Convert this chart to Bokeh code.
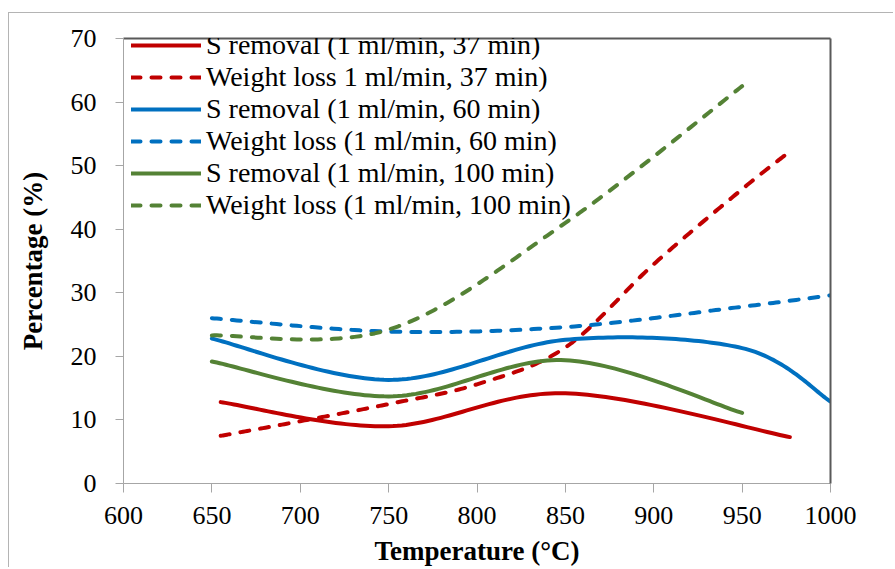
import numpy as np
from bokeh.plotting import figure
from bokeh.models import Range1d, FixedTicker, LinearAxis, Legend, LegendItem
from bokeh.embed import file_html
from bokeh.resources import INLINE

# ---- data ----
temp_s37 = [655, 750, 850, 977]
s_removal_37 = [12.8, 9.0, 14.2, 7.3]
temp_w37 = [655, 700, 750, 800, 850, 900, 950, 975]
weight_loss_37 = [7.5, 9.8, 12.5, 15.6, 21.4, 34.5, 46.3, 51.8]
temp_60 = [650, 750, 850, 950, 1000]
s_removal_60 = [22.8, 16.3, 22.6, 21.3, 12.9]
weight_loss_60 = [26.0, 23.9, 24.6, 27.8, 29.6]
temp_100 = [650, 750, 850, 950]
s_removal_100 = [19.2, 13.7, 19.4, 11.1]
weight_loss_100 = [23.3, 24.2, 41.0, 62.5]

labels = [
    "S removal (1 ml/min, 37 min)",
    "Weight loss 1 ml/min, 37 min)",
    "S removal (1 ml/min, 60 min)",
    "Weight loss (1 ml/min, 60 min)",
    "S removal (1 ml/min, 100 min)",
    "Weight loss (1 ml/min, 100 min)",
]
x_title = "Temperature (°C)"
y_title = "Percentage (%)"
x_ticks = [600, 650, 700, 750, 800, 850, 900, 950, 1000]
y_ticks = [0, 10, 20, 30, 40, 50, 60, 70]

RED, BLUE, GREEN = "#C00000", "#0070C0", "#548235"
FONT = "Liberation Serif"


def smooth(xs, ys, n=40):
    """Excel-style smoothed line: cubic Bezier segments through the points."""
    P = np.column_stack([xs, ys]).astype(float)
    m = len(P)
    outx, outy = [], []
    t = np.linspace(0, 1, n)
    for i in range(m - 1):
        p0 = P[i]
        p3 = P[i + 1]
        pm = P[i - 1] if i > 0 else P[i]
        pp = P[i + 2] if i + 2 < m else P[i + 1]
        c1 = p0 + (p3 - pm) / 6.0
        c2 = p3 - (pp - p0) / 6.0
        b = ((1 - t) ** 3)[:, None] * p0 + (3 * (1 - t) ** 2 * t)[:, None] * c1 \
            + (3 * (1 - t) * t ** 2)[:, None] * c2 + (t ** 3)[:, None] * p3
        outx.extend(b[:, 0] if i == 0 else b[1:, 0])
        outy.extend(b[:, 1] if i == 0 else b[1:, 1])
    return outx, outy


W, H = 885, 555
ML, MR, MT, MB = 114, 64, 25, 84
p = figure(width=W, height=H, output_backend="svg", toolbar_location=None,
           x_range=Range1d(600, 1000), y_range=Range1d(0, 70),
           min_border_left=ML, min_border_right=MR, min_border_top=MT,
           min_border_bottom=MB)
p.styles = {"margin-top": "12px", "margin-left": "8px",
            "border-top": "1px solid #b4b4b4", "border-left": "1px solid #b4b4b4"}
p.outline_line_color = None
p.xgrid.visible = False
p.ygrid.visible = False
p.background_fill_color = "white"
p.border_fill_color = "white"

for ax in (p.xaxis[0], p.yaxis[0]):
    ax.axis_line_color = "#a6a6a6"
    ax.major_tick_line_color = "#a6a6a6"
    ax.minor_tick_line_color = None
    ax.major_tick_in = 0
    ax.major_label_text_font = FONT
    ax.major_label_text_font_size = "26px"
    ax.major_label_text_color = "black"
    ax.major_label_text_line_height = 0.9
    ax.axis_label_text_font = FONT
    ax.axis_label_text_font_size = "27px"
    ax.axis_label_text_font_style = "bold"
    ax.axis_label_text_color = "black"
    ax.axis_label_text_line_height = 0.9

p.xaxis.ticker = FixedTicker(ticks=x_ticks)
p.yaxis.ticker = FixedTicker(ticks=y_ticks)
p.xaxis.major_tick_out = 9
p.yaxis.major_tick_out = 8
p.xaxis.major_label_standoff = 14
p.yaxis.major_label_standoff = 19
p.xaxis.axis_label = x_title
p.yaxis.axis_label = y_title
p.xaxis.axis_label_standoff = 9
p.yaxis.axis_label_standoff = 20

# dark frame lines on top and right
top_ax = LinearAxis(ticker=FixedTicker(ticks=[]), axis_line_color="#595959",
                    axis_line_width=2, major_tick_line_color=None,
                    minor_tick_line_color=None, major_label_text_color=None)
right_ax = LinearAxis(ticker=FixedTicker(ticks=[]), axis_line_color="#595959",
                      axis_line_width=2, major_tick_line_color=None,
                      minor_tick_line_color=None, major_label_text_color=None)
p.add_layout(top_ax, "above")
p.add_layout(right_ax, "right")

series = [
    (temp_s37, s_removal_37, RED, "solid"),
    (temp_w37, weight_loss_37, RED, "9 11"),
    (temp_60, s_removal_60, BLUE, "solid"),
    (temp_60, weight_loss_60, BLUE, "9 11"),
    (temp_100, s_removal_100, GREEN, "solid"),
    (temp_100, weight_loss_100, GREEN, "9 11"),
]
items = []
for (xs, ys, col, dash), lab in zip(series, labels):
    sx, sy = smooth(xs, ys)
    r = p.line(sx, sy, line_color=col, line_width=4, line_dash=dash,
               line_cap="round", line_join="round")
    items.append(LegendItem(label=lab, renderers=[r]))

legend = Legend(items=items, location=(8, 262), padding=0, margin=0, spacing=0,
                glyph_width=70, glyph_height=28, label_height=28,
                label_standoff=5, border_line_color=None,
                background_fill_alpha=0,
                label_text_font=FONT, label_text_font_size="28px",
                label_text_color="black")
p.add_layout(legend)

open("out.html", "w").write(file_html(p, INLINE))
